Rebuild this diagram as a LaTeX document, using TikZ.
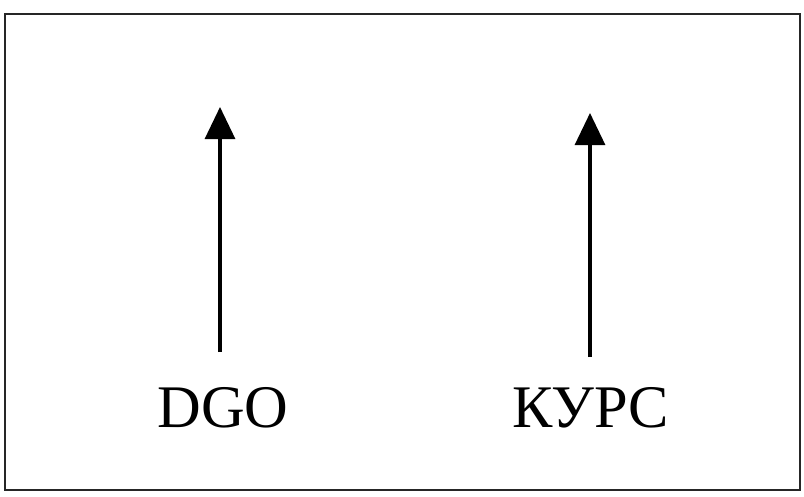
\documentclass[tikz,border=0pt]{standalone}
\usepackage{fontspec}
\setmainfont{Liberation Serif}
\usetikzlibrary{arrows.meta, positioning}

\begin{document}
\begin{tikzpicture}[
  x=0.025cm, y=-0.025cm,
  frame/.style={draw=black!85, line width=1pt},
  arr/.style={-{Triangle[length=0.8cm, width=0.75cm]}, line width=2.2pt},
  lbl/.style={font=\fontsize{43}{50}\selectfont, inner sep=0pt, anchor=base}
]
\useasboundingbox (0,0) rectangle (804,496);

% Outer frame
\draw[frame] (5,14) rectangle (800,490);

% Labels
\node[lbl] (dgo)  at (223,427) {DGO};
\node[lbl] (kurs) at (591,427) {КУРС};

% Arrow end points
\coordinate (dgobase)  at (220,352);
\coordinate (dgotop)   at (220,107);
\coordinate (kursbase) at (590,357);
\coordinate (kurstop)  at (590,113);

% Arrows
\draw[arr] (dgobase)  -- (dgotop);
\draw[arr] (kursbase) -- (kurstop);
\end{tikzpicture}
\end{document}
